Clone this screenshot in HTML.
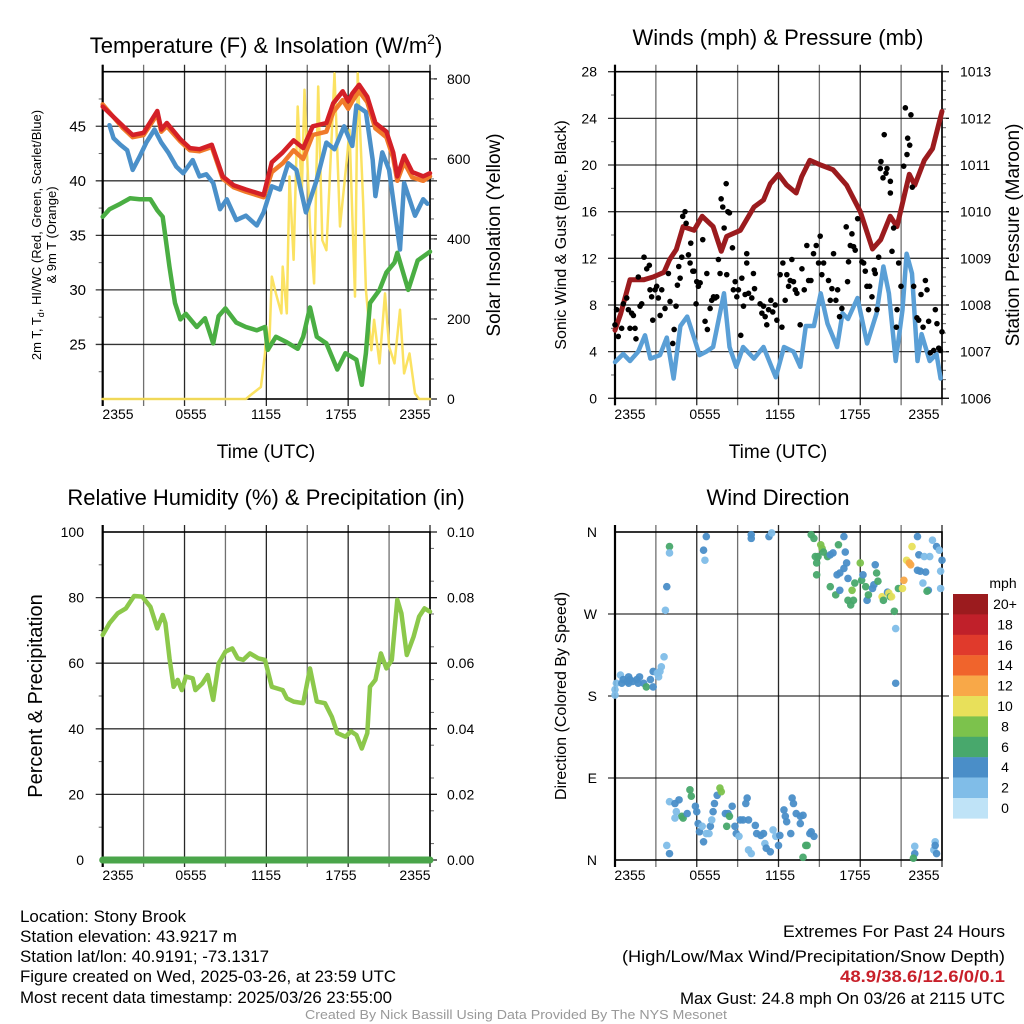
<!DOCTYPE html>
<html><head><meta charset="utf-8"><style>
html,body{margin:0;padding:0;background:#fff;}
svg{display:block;font-family:"Liberation Sans",sans-serif;}
</style></head><body>
<svg id="fig" xmlns="http://www.w3.org/2000/svg" width="1024" height="1024" viewBox="0 0 1024 1024">
<rect width="1024" height="1024" fill="#fff"/>
<g id="layer"></g>
<g font-size="22" fill="#000" text-anchor="middle">
<text x="266" y="53">Temperature (F) &amp; Insolation (W/m<tspan font-size="14" dy="-9">2</tspan><tspan dy="9">)</tspan></text>
<text x="778" y="45">Winds (mph) &amp; Pressure (mb)</text>
<text x="266" y="505">Relative Humidity (%) &amp; Precipitation (in)</text>
<text x="778" y="505">Wind Direction</text>
</g>
<g font-size="19" text-anchor="middle">
<text x="266" y="458">Time (UTC)</text>
<text x="778" y="458">Time (UTC)</text>
<text transform="translate(500,235) rotate(-90)">Solar Insolation (Yellow)</text>
<text transform="translate(1019,235) rotate(-90)">Station Pressure (Maroon)</text>
<text transform="translate(42,696) rotate(-90)" font-size="20">Percent &amp; Precipitation</text>
<text transform="translate(566,235) rotate(-90)" font-size="16">Sonic Wind &amp; Gust (Blue, Black)</text>
<text transform="translate(566,696) rotate(-90)" font-size="16">Direction (Colored By Speed)</text>
<text transform="translate(41,235) rotate(-90)" font-size="13">2m T, T<tspan font-size="9" dy="3">d</tspan><tspan dy="-3">, HI/WC (Red, Green, Scarlet/Blue)</tspan></text>
<text transform="translate(56,235) rotate(-90)" font-size="13">&amp; 9m T (Orange)</text>
</g>
<g font-size="17" fill="#000">
<text x="20" y="922" textLength="166" lengthAdjust="spacingAndGlyphs">Location: Stony Brook</text>
<text x="20" y="942" textLength="217" lengthAdjust="spacingAndGlyphs">Station elevation: 43.9217 m</text>
<text x="20" y="962" textLength="249" lengthAdjust="spacingAndGlyphs">Station lat/lon: 40.9191; -73.1317</text>
<text x="20" y="982" textLength="376" lengthAdjust="spacingAndGlyphs">Figure created on Wed, 2025-03-26, at 23:59 UTC</text>
<text x="20" y="1003" textLength="372" lengthAdjust="spacingAndGlyphs">Most recent data timestamp: 2025/03/26 23:55:00</text>
<text x="783" y="937" textLength="222" lengthAdjust="spacingAndGlyphs">Extremes For Past 24 Hours</text>
<text x="622" y="962" textLength="383" lengthAdjust="spacingAndGlyphs">(High/Low/Max Wind/Precipitation/Snow Depth)</text>
<text x="840" y="982" textLength="165" lengthAdjust="spacingAndGlyphs" fill="#c8202a" font-weight="bold">48.9/38.6/12.6/0/0.1</text>
<text x="680" y="1004" textLength="325" lengthAdjust="spacingAndGlyphs">Max Gust: 24.8 mph On 03/26 at 2115 UTC</text>
<text x="305" y="1019" textLength="422" lengthAdjust="spacingAndGlyphs" font-size="13" fill="#999">Created By Nick Bassill Using Data Provided By The NYS Mesonet</text>
</g>
</svg>
<script>
// ---------- DATA ----------
const xTickLabels = ["2355","0555","1155","1755","2355"];
const tempTicks = [25,30,35,40,45];
const solarTicks = [0,200,400,600,800];
const windTicks = [0,4,8,12,16,20,24,28];
const presTicks = [1006,1007,1008,1009,1010,1011,1012,1013];
const rhTicks = [0,20,40,60,80,100];
const precipTicks = ["0.00","0.02","0.04","0.06","0.08","0.10"];
const dirTicks = [0,90,180,270,360];
const dirTickLabels = ["N","E","S","W","N"];
const cbarLabels = ["20+","18","16","14","12","10","8","6","4","2","0"];
const cbarColors = ["#9b1b1e","#c0202a","#e03a2c","#f0642c","#f8a848","#e8e05a","#7cc24c","#48a86c","#4a8ec8","#80bde8","#bfe3f7"];

const redTimes = [0,1.5,2.2,3.0,4.0,4.3,4.7,5.7,6.4,7.1,8.0,8.8,9.6,10.5,11.8,12.4,13.2,14.0,14.7,15.4,16.4,16.9,17.6,18.0,18.3,18.8,19.4,20.0,20.8,21.3,21.6,22.1,22.7,23.5,24];
const redTemps = [46.8,45.0,44.2,44.4,46.4,44.7,45.3,43.8,43.0,42.9,43.3,40.4,39.6,39.2,38.7,41.7,42.6,43.7,43.0,45.0,45.3,47.1,48.2,47.3,48.0,48.8,47.7,45.3,44.5,42.6,40.4,42.3,40.8,40.4,40.7];
const orangeTemps = [47.0,44.8,44.0,44.2,46.1,44.5,45.0,43.6,42.8,42.7,43.1,40.2,39.4,39.0,38.5,40.8,41.6,42.8,42.0,44.2,44.5,46.3,47.4,46.6,47.3,48.2,47.2,44.8,44.0,42.1,40.0,41.7,40.3,40.0,40.4];
const blueTimes = [0.5,0.8,1.3,1.8,2.2,2.7,3.2,3.8,4.3,4.8,5.4,5.9,6.6,7.1,7.6,8.1,8.6,9.1,9.8,10.5,11.3,11.8,12.4,13.0,13.6,14.2,14.9,15.7,16.4,17.0,17.7,18.3,18.6,19.3,19.8,20.0,20.5,21.0,21.8,22.1,22.9,23.5,23.8];
const blueTemps = [45.1,43.9,43.3,42.8,41.0,42.2,43.5,44.7,43.5,42.6,41.3,40.7,41.9,40.4,40.6,39.8,37.4,38.3,36.4,36.8,35.9,37.1,39.5,39.2,41.6,41.0,37.1,40.1,43.5,42.9,45.0,43.2,46.9,46.3,41.9,38.6,42.6,41.0,33.7,39.8,36.8,38.3,37.9];
const greenTimes = [0,0.5,1.3,2.0,2.7,3.5,4.0,4.4,4.9,5.3,5.7,6.1,6.9,7.5,8.1,8.5,9.0,9.8,10.5,11.3,11.9,12.1,12.7,13.5,14.3,14.7,15.2,15.7,16.4,17.2,17.8,18.6,19.0,19.3,19.6,20.3,20.8,21.4,21.6,22.4,23.1,24.0];
const greenTemps = [36.7,37.4,37.9,38.4,38.3,38.3,37.3,36.7,32.1,28.8,27.3,27.8,26.6,27.4,25.1,27.6,28.3,27.0,26.6,26.3,26.6,24.5,25.7,25.2,24.6,25.7,28.4,25.7,25.1,22.7,24.2,23.6,21.3,24.2,28.8,30.0,31.6,32.5,33.4,30.0,32.7,33.5];
const solarTimes = [0,10.5,11.0,11.6,11.9,12.0,12.2,12.4,12.7,13.1,13.2,13.5,13.7,14.0,14.3,14.6,14.8,15.2,15.5,15.8,16.1,16.4,16.6,17.0,17.4,17.9,18.1,18.5,18.7,19.1,19.3,19.7,19.9,20.3,20.7,21.0,21.4,21.8,22.1,22.5,22.9,23.2,24];
const solarValues = [0,0,14,30,114,181,122,306,264,214,331,214,556,348,731,514,773,431,289,781,397,372,514,814,431,598,673,256,814,489,273,122,198,89,264,131,89,223,64,114,14,0,0];

const presTimes = [0,0.4,1.1,2.1,2.8,3.6,4.0,4.5,5.0,5.8,6.4,7.2,7.8,8.2,9.2,10.2,10.9,11.4,12.0,12.6,13.3,13.7,14.3,15.1,16.0,17.0,18.0,18.9,19.5,20.2,20.7,21.2,21.6,22.0,22.7,23.3,24.0];
const presValues = [1007.46,1007.8,1008.54,1008.54,1008.6,1008.7,1008.97,1009.19,1009.68,1009.6,1009.9,1009.68,1009.15,1009.47,1009.6,1010.1,1010.25,1010.6,1010.8,1010.57,1010.4,1010.75,1011.1,1011.0,1010.9,1010.57,1010.0,1009.2,1009.4,1009.9,1009.68,1010.3,1010.8,1010.57,1011.1,1011.35,1012.15];
const windTimes = [0,0.6,1.1,1.7,2.2,2.6,3.3,3.8,4.3,4.8,5.3,5.8,6.2,6.7,7.2,8.0,8.4,8.9,9.4,10.2,10.9,11.8,12.4,13.1,13.6,14.0,14.6,15.1,15.6,16.3,16.7,17.1,17.8,18.5,19.2,19.7,20.1,20.6,21.1,21.4,21.8,22.2,22.5,23.1,23.6,23.9];
const windSpeeds = [3.1,3.8,3.2,4.0,5.4,3.4,3.7,5.2,1.7,6.2,7.0,5.2,3.7,4.0,4.4,9.0,4.4,2.7,4.4,3.4,4.4,1.8,4.4,4.0,2.7,6.2,6.2,9.0,6.4,4.4,7.3,6.8,8.6,4.7,7.3,11.3,9.0,3.2,7.6,12.4,10.7,3.2,5.5,3.2,3.8,1.7];
const gustTimes = [0.00,0.12,0.24,0.49,0.61,0.86,0.98,1.10,1.22,1.35,1.47,1.54,1.71,1.84,1.96,2.13,2.33,2.52,2.57,2.69,2.77,2.94,3.06,3.18,3.31,3.43,3.67,3.92,4.04,4.24,4.34,4.48,4.58,4.68,4.78,4.90,4.97,5.14,5.22,5.39,5.51,5.56,5.71,5.80,5.95,6.00,6.12,6.25,6.44,6.61,6.74,6.78,6.98,7.10,7.23,7.35,7.47,7.59,7.71,7.79,7.91,8.01,8.16,8.20,8.28,8.40,8.62,8.69,8.82,8.94,9.06,9.23,9.31,9.43,9.55,9.67,9.67,9.80,10.04,10.16,10.24,10.65,10.78,10.90,11.02,11.14,11.27,11.44,11.58,11.76,11.88,12.12,12.25,12.32,12.49,12.61,12.74,12.86,12.98,13.10,13.23,13.35,13.59,13.72,13.89,14.08,14.21,14.38,14.57,14.77,14.94,15.06,15.18,15.31,15.67,15.80,15.92,16.04,16.21,16.34,16.48,16.65,16.97,17.07,17.14,17.27,17.39,17.51,17.63,17.81,18.12,18.25,18.37,18.49,18.61,18.69,18.86,19.03,19.10,19.23,19.35,19.47,19.52,19.67,19.76,19.89,19.96,20.21,20.21,20.33,20.45,20.65,20.70,20.82,20.99,21.19,21.31,21.43,21.48,21.63,21.72,21.82,21.92,22.16,22.29,22.46,22.61,22.78,22.90,23.02,23.14,23.39,23.51,23.63,23.76,23.88,24.00];
const gustSpeeds = [6.3,7.6,5.3,6.0,8.1,8.6,7.6,6.0,7.3,7.1,6.0,5.1,10.4,7.9,8.1,12.1,11.1,11.4,9.3,8.7,6.7,9.3,9.6,8.6,7.1,9.3,7.7,10.7,8.3,4.7,5.9,7.9,9.7,11.3,10.3,12.1,15.6,16.0,15.0,12.3,11.6,13.3,10.9,10.9,8.1,10.0,9.6,9.9,13.6,6.6,10.7,5.9,7.7,8.4,8.7,8.6,8.7,11.9,10.7,17.1,16.4,14.6,18.4,10.6,16.0,15.9,12.9,9.3,10.0,8.7,9.3,5.4,10.3,7.9,8.9,12.4,11.6,9.0,8.6,10.7,9.4,8.1,7.3,7.9,7.0,6.3,7.6,8.4,7.4,8.0,6.7,10.6,6.1,11.6,8.4,10.6,9.6,10.1,11.9,10.0,9.3,9.0,6.3,11.1,9.3,13.1,10.1,10.1,12.4,13.1,11.6,13.9,10.6,11.6,10.1,8.4,9.4,12.4,8.4,9.3,7.0,7.7,14.7,10.0,11.7,13.1,14.1,13.0,12.7,15.4,11.7,11.6,10.9,9.6,7.6,9.6,8.7,11.0,10.7,7.6,12.1,19.7,20.3,18.9,22.6,19.3,19.7,18.6,17.6,12.6,14.6,6.1,7.6,11.6,9.6,19.9,24.9,20.9,22.3,21.7,24.3,18.1,9.6,6.9,6.7,8.9,6.1,10.1,9.3,6.6,3.9,4.1,7.6,6.4,4.3,4.1,5.7];

const rhTimes = [0,0.5,1.1,1.7,2.3,2.9,3.5,4.0,4.4,4.6,4.9,5.2,5.5,5.8,6.1,6.6,6.8,7.3,7.7,8.1,8.5,9.0,9.5,9.9,10.3,10.8,11.4,11.9,12.4,13.2,13.5,14.0,14.7,15.2,15.7,16.3,16.8,17.2,17.8,18.2,18.6,19.0,19.4,19.6,20.0,20.4,20.8,21.2,21.6,21.9,22.3,22.8,23.2,23.6,24.0];
const rhValues = [68.6,72.2,75.2,76.7,80.5,80.3,77.2,70.6,74.7,72.2,61.5,52.8,54.9,51.8,55.9,55.4,51.8,53.8,56.4,48.8,59.9,63.5,64.5,61.5,61.0,63.0,61.5,61.0,52.8,51.8,49.3,48.3,47.8,58.4,48.3,47.8,43.7,38.7,37.6,39.2,38.1,34.0,38.7,52.8,54.9,63.0,58.4,61.0,79.3,75.2,62.5,68.1,74.2,76.7,75.7];
const precipTimes = [0,24];
const precipValues = [0,0];

const dirTimes = [0,0,0.1,0.4,0.5,0.6,0.9,1.0,1.0,1.1,1.3,1.6,1.7,1.8,2.1,2.3,2.6,2.8,2.8,3.1,3.2,3.3,3.4,3.6,3.8,4.0,4.0,3.7,
 4.0,4.4,4.7,4.9,5.0,5.3,5.5,5.6,5.9,6.0,6.1,6.2,6.5,6.4,6.7,6.9,7.0,7.1,7.2,7.3,7.5,7.7,7.8,8.1,8.2,8.3,8.4,8.6,8.8,8.9,9.1,9.2,9.4,9.6,9.7,9.8,10.3,10.4,10.7,10.9,11.0,11.1,11.4,11.6,11.8,12.0,12.1,12.4,12.5,12.6,12.9,13.0,13.1,13.3,13.6,13.8,14.0,14.1,14.3,14.4,14.6,13.6,13.8,10.0,9.8,3.8,4.0,4.5,4.4,
 6.5,6.7,6.6,10.0,10.0,11.3,11.5,
 14.4,14.6,15.1,15.2,15.3,15.6,15.8,14.8,14.9,14.7,14.8,16.0,16.4,16.8,16.9,17.0,16.8,16.5,16.3,17.1,15.8,16.2,16.5,17.1,17.3,17.4,17.6,17.5,18.0,18.1,18.2,18.4,18.5,18.6,18.9,19.0,19.1,19.2,19.3,19.6,19.7,20.0,20.1,20.2,20.3,20.5,20.6,20.6,20.8,21.1,21.2,21.4,21.6,21.7,21.8,22.2,22.3,22.4,22.7,22.8,23.1,23.3,23.6,23.8,23.9,24.0,23.9,23.0,22.9,22.6,22.2,
 22.0,22.0,21.9,23.4,23.5,23.6,23.5];
const dirDegs = [187,181,194,203,194,198,196,201,194,198,196,198,194,201,194,190,198,190,207,205,201,207,212,223,300,344,337,274,
 64,62,66,48,46,51,77,70,59,53,40,31,20,37,29,29,37,44,53,62,71,79,75,51,37,51,48,59,37,29,26,44,44,62,68,44,38,29,27,29,18,13,9,33,26,16,27,55,48,42,29,68,62,51,48,49,16,16,29,31,26,40,3,7,11,16,7,53,46,
 340,355,329,357,353,355,359,
 357,353,346,342,338,333,335,326,333,333,313,337,346,355,338,326,320,315,313,309,300,291,296,285,280,296,304,285,326,307,313,300,285,291,298,302,324,315,306,289,285,294,293,289,289,273,254,194,298,298,307,329,326,324,344,355,335,317,333,316,333,351,344,340,317,329,298,296,295,304,318,
 15,7,2,11,20,7,16];
const dirSpeeds = [2,2,2,2,3.5,3.5,3.5,3.5,3.5,3.5,3.5,3.5,3.5,3.5,3.5,6,3.5,3.5,3.5,2,2,2,2,2,3.5,6,2,2,
 2,3.5,3.5,6,6,3.5,6,6,3.5,3.5,3.5,3.5,3.5,2,2,2,3.5,2,3.5,3.5,3.5,7.5,7.5,3.5,6,3.5,6,3.5,3.5,3.5,2,3.5,3.5,3.5,3.5,3.5,3.5,3.5,3.5,3.5,2,3.5,3.5,2,2,3.5,3.5,3.5,3.5,3.5,3.5,3.5,3.5,3.5,3.5,3.5,6,6,3.5,3.5,3.5,3.5,6,2,2,2,3.5,2,2,
 3.5,3.5,2,3.5,3.5,3.5,2,
 6,6,7.5,7.5,6,6,3.5,6,6,6,6,3.5,6,3.5,3.5,3.5,3.5,3.5,3.5,3.5,6,6,3.5,6,6,7.5,6,6,7.5,6,3.5,6,3.5,6,3.5,3.5,3.5,6,6,9.5,6,3.5,9.5,6,9.5,6,2,3.5,6,9.5,11,9.5,11,11,9.5,3.5,3.5,3.5,2,3.5,2,2,3.5,2,2,3.5,2,3.5,6,2,3.5,
 2,3.5,6,2,2,3.5,3.5];

// ---------- AXES ----------
const P1 = {x0:102.7,x1:430,y0:399,y1:71.7};
const P2 = {x0:615,x1:942,y0:398.3,y1:71.7};
const P3 = {x0:102.7,x1:430,y0:860,y1:532};
const P4 = {x0:615,x1:942,y0:860,y1:532};
function lin(d0,d1,r0,r1){return v=>r0+(v-d0)/(d1-d0)*(r1-r0);}
const x1s = lin(0,24,P1.x0,P1.x1), x2s = lin(0,24,P2.x0,P2.x1);
const tY = lin(20,50,P1.y0,P1.y1), sY = lin(0,818,P1.y0,P1.y1);
const wY = lin(0,28,P2.y0,P2.y1), pY = lin(1006,1013,P2.y0,P2.y1);
const rY = lin(0,100,P3.y0,P3.y1), prY = lin(0,0.1,P3.y0,P3.y1);
const dY = lin(0,360,P4.y0,P4.y1);

const NS="http://www.w3.org/2000/svg";
const layer=document.getElementById('layer');
function mk(tag,attrs,parent){const e=document.createElementNS(NS,tag);for(const k in attrs)e.setAttribute(k,attrs[k]);(parent||layer).appendChild(e);return e;}

function frame(P,panel,vLinesN,hVals,yScale,rightTicks,rightScale,leftMinor,rightMinor){
  const g=mk('g',{});
  
  
  for(let i=0;i<=vLinesN;i++){
    const x=P.x0+(P.x1-P.x0)*i/vLinesN;
    const l=mk('line',{x1:x,x2:x,y1:P.y1-7,y2:P.y0+7,stroke:'#111','stroke-width':1.3,'stroke-opacity':(i%2?0.6:0.9)},g);
    
    
  }
  hVals.forEach(v=>{
    const y=yScale(v);
    const l=mk('line',{x1:P.x0-7,x2:P.x1+7,y1:y,y2:y,stroke:'#111','stroke-width':1.3,'stroke-opacity':0.85},g);
    
    
  });
  leftMinor.forEach(v=>{const y=yScale(v);mk('line',{x1:P.x0-4,x2:P.x0,y1:y,y2:y,stroke:'#666','stroke-width':1},g);});
  if(rightScale){
    rightTicks.forEach(v=>{const y=rightScale(v);mk('line',{x1:P.x1,x2:P.x1+7,y1:y,y2:y,stroke:'#111','stroke-width':1.2},g);});
    rightMinor.forEach(v=>{const y=rightScale(v);mk('line',{x1:P.x1,x2:P.x1+4,y1:y,y2:y,stroke:'#666','stroke-width':1},g);});
  }
  mk('rect',{x:P.x0,y:P.y1,width:P.x1-P.x0,height:P.y0-P.y1,fill:'none',stroke:'#000','stroke-width':1.6},g);
  mk('line',{x1:P.x0,x2:P.x0,y1:P.y1-7,y2:P.y0+7,stroke:'#000','stroke-width':2.2},g);
  return g;
}
function rng(a,b,s){const r=[];for(let v=a;v<=b+1e-9;v+=s)r.push(+v.toFixed(4));return r;}

frame(P1,'temp',8,tempTicks,tY,solarTicks,sY,rng(22.5,47.5,5),rng(50,800,50));
frame(P2,'wind',8,windTicks,wY,presTicks,pY,rng(2,26,4),rng(1006.2,1012.8,0.2));
frame(P3,'rh',8,[20,40,60,80],rY,[0,0.02,0.04,0.06,0.08,0.1],prY,rng(10,90,20),rng(0.005,0.1,0.01));
frame(P4,'dir',8,[90,180,270],dY,[],null,[],[]);

function tickText(x,y,txt,anchor,name,size){
  const t=mk('text',{x:x,y:y,'text-anchor':anchor,'font-size':size||14});
  t.textContent=txt;
  
  
}
const lab1=[118,191,266,341,415], lab2=[630,705,780,855,924];
xTickLabels.forEach((s,i)=>{tickText(lab1[i],419,s,'middle','temp-x-tick-label');tickText(lab2[i],419,s,'middle','wind-x-tick-label');tickText(lab1[i],880,s,'middle','rh-x-tick-label');tickText(lab2[i],880,s,'middle','dir-x-tick-label');});
tempTicks.forEach(v=>tickText(86,tY(v)+5,String(v),'end','temp-y-tick-label',15));
solarTicks.forEach(v=>tickText(447,sY(v)+5,String(v),'start','solar-y-tick-label'));
windTicks.forEach(v=>tickText(597,wY(v)+5,String(v),'end','wind-y-tick-label'));
presTicks.forEach(v=>tickText(960,pY(v)+5,String(v),'start','pressure-y-tick-label'));
rhTicks.forEach(v=>tickText(84,rY(v)+5,String(v),'end','rh-y-tick-label'));
precipTicks.forEach((s,i)=>tickText(447,prY(i*0.02)+5,s,'start','precip-y-tick-label'));
dirTicks.forEach((v,i)=>tickText(597,dY(v)+5,dirTickLabels[i],'end','dir-y-tick-label'));

function series(ts,vs,xs,ys,color,w,name,op){
  const pts=ts.map((t,i)=>xs(t).toFixed(1)+','+ys(vs[i]).toFixed(1)).join(' ');
  const p=mk('polyline',{points:pts,fill:'none',stroke:color,'stroke-width':w,'stroke-linejoin':'round','stroke-linecap':'round','stroke-opacity':op||1});
  
  
}
series(solarTimes,solarValues,x1s,sY,'#fbe05a',2.5,'solar-insolation-line',0.95);
series(greenTimes,greenTemps,x1s,tY,'#4aae43',4.5,'dewpoint-line');
series(blueTimes,blueTemps,x1s,tY,'#4b90c9',4.5,'wind-chill-line');
series(redTimes,orangeTemps,x1s,tY,'#f07a2a',4.5,'temp-9m-line');
series(redTimes,redTemps,x1s,tY,'#d42027',4.5,'temp-2m-line');

series(windTimes,windSpeeds,x2s,wY,'#5a9fd6',4.5,'sonic-wind-line');
series(presTimes,presValues,x2s,pY,'#9b1b1e',5,'pressure-line');
gustTimes.forEach((t,i)=>{
  const c=mk('circle',{cx:x2s(t),cy:wY(gustSpeeds[i]),r:2.8,fill:'#000'});
  
  
});

series(rhTimes,rhValues,x1s,rY,'#8cc84b',4.5,'rh-line');
series(precipTimes,precipValues,x1s,prY,'#4aa54a',7,'precip-line');

function speedColor(s){const k=Math.min(10,Math.max(0,Math.round(s/2)));return cbarColors[10-k];}
const nDir=Math.min(dirTimes.length,dirDegs.length,dirSpeeds.length);
for(let i=0;i<nDir;i++){
  const c=mk('circle',{cx:x2s(dirTimes[i]),cy:dY(dirDegs[i]),r:3.8,fill:speedColor(dirSpeeds[i]),'fill-opacity':0.95});
  
  
}

// colorbar
const cb=mk('g',{});


tickText(1003,588,'mph','middle','colorbar-title');
cbarColors.forEach((col,i)=>{
  const y=594+i*20.4;
  const r=mk('rect',{x:953,y:y,width:35,height:20.6,fill:col},cb);
  
  
  tickText(1005,y+15,cbarLabels[i],'middle','colorbar-label');
});
</script>
</body></html>
